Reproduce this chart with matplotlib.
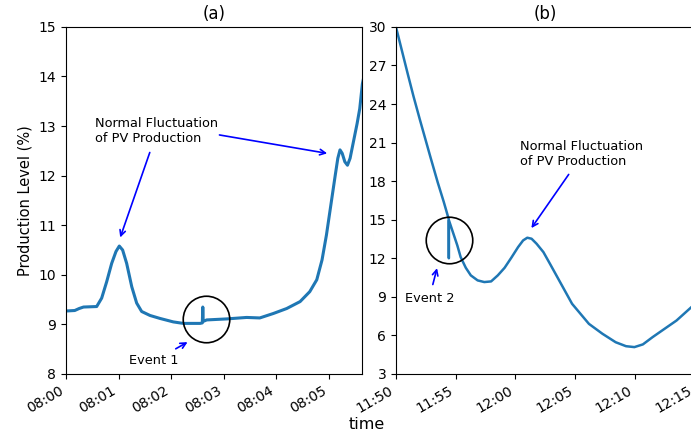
import matplotlib
matplotlib.use("Agg")
import matplotlib.pyplot as plt
import matplotlib.dates as mdates
import pandas as pd

# Panel (a): seconds after 08:00 and production level (%)
a_seconds = [0, 10, 15, 20, 35, 40.7, 46.4, 52.1, 57, 60.8, 64.6, 69.2, 75, 80.6, 86.3, 95.8,
             107.2, 122.4, 133.8, 152.9, 155.5, 156, 156.5, 160.5, 183, 206, 221, 236.5,
             251.7, 267, 278, 286, 292, 297, 302, 307, 310, 312.5, 315, 318, 321, 324, 328,
             332, 335, 338, 341]
a_values = [9.27, 9.28, 9.32, 9.35, 9.36, 9.53, 9.86, 10.23, 10.47, 10.58, 10.5, 10.23, 9.76, 9.43, 9.26, 9.18,
            9.12, 9.05, 9.02, 9.02, 9.03, 9.35, 9.06, 9.09, 9.11, 9.14, 9.13, 9.22,
            9.32, 9.46, 9.66, 9.90, 10.3, 10.8, 11.4, 12.0, 12.35, 12.52, 12.45, 12.28, 12.21, 12.35, 12.7,
            13.05, 13.35, 13.85, 14.1]

# Panel (b): minutes after 11:50 and production level (%)
b_minutes = [0, 1, 1.47, 2, 2.88, 3.5, 4.0, 4.42, 4.43, 4.44, 5.14, 5.42, 5.85, 6.27, 6.84, 7.4,
             7.97, 8.53, 9.1, 9.66, 10.23, 10.65, 11.0, 11.36, 11.78, 12.35, 12.9, 13.9, 14.75,
             16.16, 17.29, 18.4, 19.27, 19.97, 20.68, 21.5, 23.5, 24.9, 25.3]
b_values = [30, 26.3, 24.6, 22.8, 19.9, 17.9, 16.4, 15.05, 12.0, 14.95, 13.0, 12.09, 11.26, 10.67, 10.28, 10.15,
            10.2, 10.67, 11.26, 12.04, 12.87, 13.39, 13.6, 13.52, 13.13, 12.48, 11.57, 9.89, 8.46,
            6.9, 6.13, 5.47, 5.16, 5.09, 5.3, 5.87, 7.16, 8.33, 8.7]

a_ticks = list(range(8, 16))
b_ticks = list(range(3, 31, 3))

t0a = pd.Timestamp("2020-01-01 08:00:00")
t0b = pd.Timestamp("2020-01-01 11:50:00")
ta = [t0a + pd.Timedelta(seconds=s) for s in a_seconds]
tb = [t0b + pd.Timedelta(minutes=m) for m in b_minutes]

def sa(s):
    return mdates.date2num(t0a + pd.Timedelta(seconds=s))

def mb(m):
    return mdates.date2num(t0b + pd.Timedelta(minutes=m))

fig = plt.figure(figsize=(6.91, 4.41), dpi=100)
ax1 = fig.add_axes([0.0955, 0.152, 0.4284, 0.787])
ax2 = fig.add_axes([0.573, 0.152, 0.432, 0.787])

color = '#1f77b4'
ax1.plot(ta, a_values, color=color, lw=2.2)
ax2.plot(tb, b_values, color=color, lw=1.8)

ax1.set_xlim(sa(0), sa(337.6))
ax1.set_ylim(8, 15)
ax1.set_yticks(a_ticks)
ax1.xaxis.set_major_locator(mdates.MinuteLocator(interval=1))
ax1.xaxis.set_major_formatter(mdates.DateFormatter('%H:%M'))

ax2.set_xlim(mb(0), mb(25))
ax2.set_ylim(3, 30)
ax2.set_yticks(b_ticks)
ax2.xaxis.set_major_locator(mdates.MinuteLocator(byminute=range(0, 60, 5)))
ax2.xaxis.set_major_formatter(mdates.DateFormatter('%H:%M'))

for ax in (ax1, ax2):
    for lab in ax.get_xticklabels():
        lab.set_rotation(30)
        lab.set_ha('right')
    ax.tick_params(labelsize=10)

ax1.set_title('(a)', fontsize=12)
ax2.set_title('(b)', fontsize=12)
ax1.set_ylabel('Production Level (%)', fontsize=10.5)
fig.text(0.531, 0.02, 'time', ha='center', va='bottom', fontsize=11.5)

arrow = dict(arrowstyle='->', color='blue', lw=1.2)

# Panel (a) annotations
ax1.text(sa(33), 13.18, 'Normal Fluctuation\nof PV Production', fontsize=9.3, va='top', ha='left')
ax1.annotate('', xy=(sa(60.8), 10.70), xytext=(sa(96.6), 12.52), arrowprops=arrow)
ax1.annotate('', xy=(sa(301), 12.44), xytext=(sa(171.9), 12.83), arrowprops=arrow)
ax1.text(sa(100.4), 8.28, 'Event 1', fontsize=9.3, ha='center', va='center')
ax1.annotate('', xy=(sa(141.4), 8.67), xytext=(sa(122.4), 8.48), arrowprops=arrow)
ax1.plot([sa(159.7)], [9.11], 'o', ms=33.5, mfc='none', mec='black', mew=1.2)

# Panel (b) annotations
ax2.text(mb(10.36), 21.2, 'Normal Fluctuation\nof PV Production', fontsize=9.3, va='top', ha='left')
ax2.annotate('', xy=(mb(11.21), 14.17), xytext=(mb(14.6), 18.7), arrowprops=arrow)
ax2.text(mb(2.80), 8.88, 'Event 2', fontsize=9.3, ha='center', va='center')
ax2.annotate('', xy=(mb(3.5), 11.44), xytext=(mb(3.03), 9.75), arrowprops=arrow)
ax2.plot([mb(4.43)], [13.39], 'o', ms=33.5, mfc='none', mec='black', mew=1.2)

fig.savefig('out.png', dpi=100)
